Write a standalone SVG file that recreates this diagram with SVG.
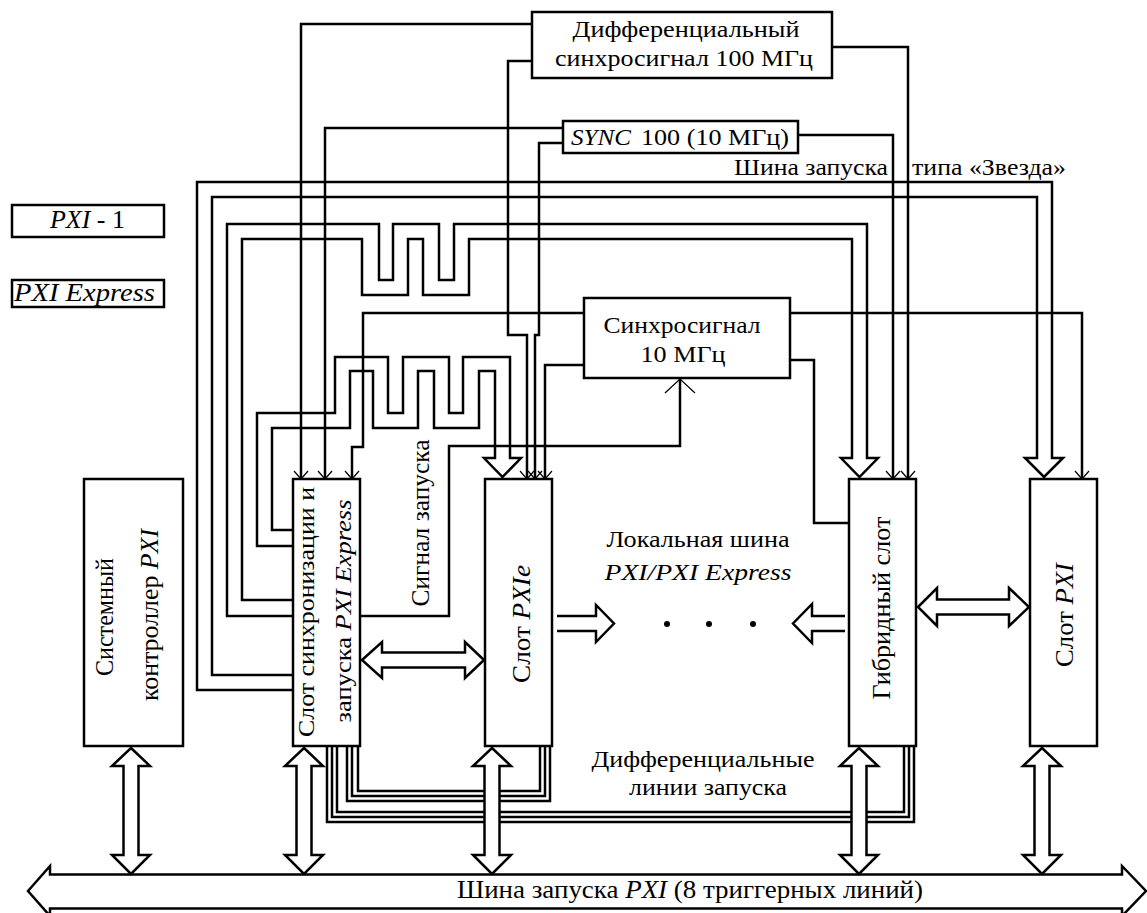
<svg xmlns="http://www.w3.org/2000/svg" width="1147" height="913" viewBox="0 0 1147 913">
<style>
.ln{fill:none;stroke:#000;stroke-width:2.5;stroke-linejoin:miter}
.ah{fill:none;stroke:#000;stroke-width:1.2}
.box{fill:#fff;stroke:#000;stroke-width:2.5}
.ha{fill:#fff;stroke:#000;stroke-width:2.5;stroke-linejoin:miter}
text{font-family:'Liberation Serif','Times New Roman',serif;font-size:25px;fill:#000}
.s{font-size:23px}
.c{text-anchor:middle}
.r{dominant-baseline:central;text-anchor:middle}
.i{font-style:italic}
</style>
<rect width="1147" height="913" fill="#fff"/>
<g id="connectors">
  <path class="ln" d="M293,690 L197,690 L197,182 L1052,182 L1052,458 L1063,458 L1044,477 L1025,458 L1037,458 L1037,197 L212,197 L212,675 L293,675"/>
  <path class="ln" d="M293,616 L227,616 L227,224 L379,224 L379,280 L393,280 L393,224 L439,224 L439,280 L454,280 L454,224 L867,224 L867,458 L878,458 L859.5,477 L841,458 L852,458 L852,239 L469,239 L469,295 L423,295 L423,239 L408,239 L408,295 L362,295 L362,239 L242,239 L242,600 L293,600"/>
  <path class="ln" d="M293,546 L257,546 L257,413 L335,413 L335,357 L388,357 L388,413 L403,413 L403,357 L449,357 L449,413 L463,413 L463,357 L510,357 L510,458 L521,458 L502.5,477 L484,458 L495,458 L495,371 L479,371 L479,428 L434,428 L434,371 L418,371 L418,428 L373,428 L373,371 L350,371 L350,428 L272,428 L272,530 L293,530"/>
  <path class="ln" d="M532,24 L301,24 L301,479"/>
  <path class="ln" d="M532,61 L508,61 L508,335 L527,335 L527,479"/>
  <path class="ln" d="M563,128 L325,128 L325,479"/>
  <path class="ln" d="M563,143 L539,143 L539,335 L535,335 L535,479"/>
  <path class="ln" d="M832,47 L908,47 L908,479"/>
  <path class="ln" d="M798,135 L893,135 L893,479"/>
  <path class="ln" d="M584,313 L363,313 L363,447 L352,447 L352,479"/>
  <path class="ln" d="M584,365 L545,365 L545,479"/>
  <path class="ln" d="M790,313 L1082,313 L1082,479"/>
  <path class="ln" d="M790,360 L814,360 L814,523 L849,523"/>
  <path class="ln" d="M360,616 L449,616 L449,446 L680,446 L680,379"/>
  <path class="ah" d="M294,471 L301,479 L308,471 M318,471 L325,479 L332,471 M345,471 L352,479 L359,471 M520,471 L527,479 L534,471 M528,471 L535,479 L542,471 M538,471 L545,479 L552,471 M886,471 L893,479 L900,471 M901,471 L908,479 L915,471 M1075,471 L1082,479 L1089,471 M665,393 L680,379 L695,393"/>
  <path class="ln" d="M358,746 L358,791 L540,791 L540,746 M352,746 L352,796 L545,796 L545,746 M347,746 L347,801 L550,801 L550,746"/>
  <path class="ln" d="M337,746 L337,812 L904,812 L904,746 M332,746 L332,817 L909,817 L909,746 M327,746 L327,822 L914,822 L914,746"/>
  <polygon class="ha" points="362,660 382,642 382,652.5 465,652.5 465,642 484,660 465,678 465,667.5 382,667.5 382,678"/>
  <polygon class="ha" points="918,607 937,588 937,599.5 1009,599.5 1009,588 1029,607 1009,626 1009,614.5 937,614.5 937,626"/>
  <polyline class="ln" points="557,616 596,616 596,605 614,623.5 596,642 596,631 557,631"/>
  <polyline class="ln" points="845,616 812,616 812,604 793,623.5 812,643 812,631 845,631"/>
  <circle cx="667" cy="624" r="3" fill="#000"/>
  <circle cx="709" cy="624" r="3" fill="#000"/>
  <circle cx="753" cy="624" r="3" fill="#000"/>
  <polygon class="ha" points="28,891 50,866 50,874.5 1122,874.5 1122,866 1146,891 1122,916 1122,908.5 50,908.5 50,916"/>
  <polygon class="ha" points="131,748 150,766 138.5,766 138.5,855 150,855 131,874 112,855 123.5,855 123.5,766 112,766"/>
  <polygon class="ha" points="304,748 323,766 311.5,766 311.5,855 323,855 304,874 285,855 296.5,855 296.5,766 285,766"/>
  <polygon class="ha" points="492,748 511,766 499.5,766 499.5,855 511,855 492,874 473,855 484.5,855 484.5,766 473,766"/>
  <polygon class="ha" points="859,748 878,766 866.5,766 866.5,855 878,855 859,874 840,855 851.5,855 851.5,766 840,766"/>
  <polygon class="ha" points="1042,748 1061,766 1049.5,766 1049.5,855 1061,855 1042,874 1023,855 1034.5,855 1034.5,766 1023,766"/>
</g>
<g id="diff-clock">
  <rect class="box" x="532" y="12" width="300" height="66"/>
  <text class="c s" x="686" y="37" textLength="227" lengthAdjust="spacingAndGlyphs">Дифференциальный</text>
  <text class="c s" x="684" y="66" textLength="258" lengthAdjust="spacingAndGlyphs">синхросигнал 100 МГц</text>
</g>
<g id="sync100">
  <rect class="box" x="563" y="121" width="235" height="32"/>
  <text class="i s" x="571" y="145" textLength="60" lengthAdjust="spacingAndGlyphs">SYNC</text>
  <text class="s" x="641" y="145" textLength="148" lengthAdjust="spacingAndGlyphs">100 (10 МГц)</text>
</g>
<g id="star-label">
  <text class="s" x="734" y="175" textLength="154" lengthAdjust="spacingAndGlyphs">Шина запуска</text>
  <text class="s" x="912" y="175" textLength="154" lengthAdjust="spacingAndGlyphs">типа «Звезда»</text>
</g>
<g id="legend-pxi1">
  <rect class="box" x="12" y="205" width="152" height="32"/>
  <text x="50" y="228" textLength="75" lengthAdjust="spacingAndGlyphs"><tspan class="i">PXI</tspan> - 1</text>
</g>
<g id="legend-pxie">
  <rect class="box" x="12" y="280" width="152" height="27"/>
  <text class="i" x="14" y="301" textLength="141" lengthAdjust="spacingAndGlyphs">PXI  Express</text>
</g>
<g id="synchro10">
  <rect class="box" x="584" y="298" width="206" height="80"/>
  <text class="c s" x="682" y="333" textLength="157" lengthAdjust="spacingAndGlyphs">Синхросигнал</text>
  <text class="c s" x="683" y="362" textLength="85" lengthAdjust="spacingAndGlyphs">10 МГц</text>
</g>
<g id="trigger-signal-label">
  <text class="r" x="420" y="523" transform="rotate(-90 420 523)" textLength="167" lengthAdjust="spacingAndGlyphs">Сигнал запуска</text>
</g>
<g id="controller">
  <rect class="box" x="84" y="479" width="99" height="267"/>
  <text class="r" x="104" y="617" transform="rotate(-90 104 617)" textLength="118" lengthAdjust="spacingAndGlyphs">Системный</text>
  <text class="r" x="149" y="615" transform="rotate(-90 149 615)" textLength="172" lengthAdjust="spacingAndGlyphs">контроллер <tspan class="i">PXI</tspan></text>
</g>
<g id="timing-slot">
  <rect class="box" x="293" y="479" width="67" height="267"/>
  <text class="r s" x="306" y="612" transform="rotate(-90 306 612)" textLength="250" lengthAdjust="spacingAndGlyphs">Слот синхронизации и</text>
  <text class="r s" x="343" y="611" transform="rotate(-90 343 611)" textLength="223" lengthAdjust="spacingAndGlyphs">запуска  <tspan class="i">PXI Express</tspan></text>
</g>
<g id="pxie-slot">
  <rect class="box" x="485" y="479" width="67" height="267"/>
  <text class="r" x="521" y="624" transform="rotate(-90 521 624)" textLength="118" lengthAdjust="spacingAndGlyphs">Слот <tspan class="i">PXIe</tspan></text>
</g>
<g id="hybrid-slot">
  <rect class="box" x="849" y="479" width="67" height="267"/>
  <text class="r" x="881" y="608" transform="rotate(-90 881 608)" textLength="183" lengthAdjust="spacingAndGlyphs">Гибридный слот</text>
</g>
<g id="pxi-slot">
  <rect class="box" x="1030" y="479" width="67" height="267"/>
  <text class="r" x="1064" y="615" transform="rotate(-90 1064 615)" textLength="104" lengthAdjust="spacingAndGlyphs">Слот <tspan class="i">PXI</tspan></text>
</g>
<g id="local-bus-label">
  <text class="c s" x="698" y="547" textLength="183" lengthAdjust="spacingAndGlyphs">Локальная шина</text>
  <text class="c i s" x="698" y="580" textLength="187" lengthAdjust="spacingAndGlyphs">PXI/PXI  Express</text>
</g>
<g id="diff-lines-label">
  <text class="c s" x="703" y="767" textLength="223" lengthAdjust="spacingAndGlyphs">Дифференциальные</text>
  <text class="c s" x="708" y="795" textLength="158" lengthAdjust="spacingAndGlyphs">линии запуска</text>
</g>
<g id="trigger-bus-label">
  <text x="457" y="898" textLength="466" lengthAdjust="spacingAndGlyphs">Шина запуска  <tspan class="i">PXI</tspan>  (8 триггерных линий)</text>
</g>
</svg>
